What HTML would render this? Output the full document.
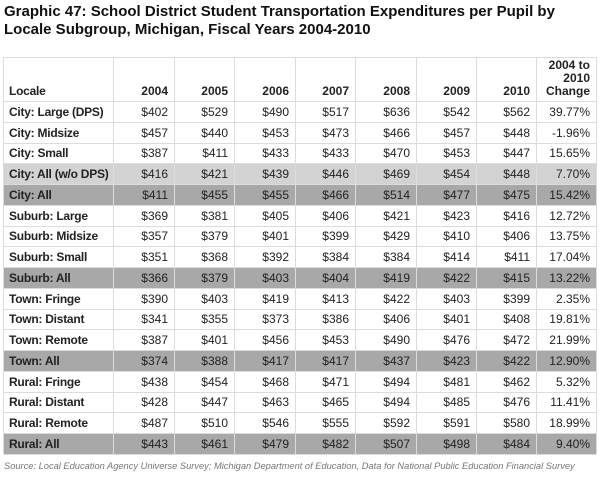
<!DOCTYPE html>
<html><head><meta charset="utf-8"><style>
body{margin:0;width:600px;height:477px;background:#fff;font-family:"Liberation Sans",Arial,sans-serif;position:relative;overflow:hidden}
.t{position:absolute;left:4px;top:3px;font-weight:bold;font-size:15px;line-height:18px;color:#111}
table{position:absolute;left:3px;top:57px;width:593px;border-collapse:collapse;table-layout:fixed;font-size:12px;color:#222}
td{border:1px solid #dcdcdc;padding:0 6px 0 2px;text-align:right;height:20.76px;white-space:nowrap;box-sizing:border-box;vertical-align:middle;line-height:14px}
td:first-child{text-align:left;font-weight:bold;padding-left:5px;padding-right:0;letter-spacing:-0.25px}
tr.h td{height:44px;vertical-align:bottom;font-weight:bold;padding-bottom:3px;line-height:13px}
tr.l td{background:#d3d3d3}
tr.d td{background:#a8a8a8}
.s{position:absolute;left:4px;top:461px;font-size:9.3px;font-style:italic;color:#777;white-space:nowrap}
</style></head><body>
<div class="t">Graphic 47: School District Student Transportation Expenditures per Pupil by<br>Locale Subgroup, Michigan, Fiscal Years 2004-2010</div>
<table>
<colgroup><col style="width:110px"><col style="width:61px"><col style="width:60px"><col style="width:61px"><col style="width:60px"><col style="width:61px"><col style="width:60px"><col style="width:60px"><col style="width:60px"></colgroup>
<tr class="h"><td>Locale</td><td>2004</td><td>2005</td><td>2006</td><td>2007</td><td>2008</td><td>2009</td><td>2010</td><td>2004 to<br>2010<br>Change</td></tr>
<tr><td>City: Large (DPS)</td><td>$402</td><td>$529</td><td>$490</td><td>$517</td><td>$636</td><td>$542</td><td>$562</td><td>39.77%</td></tr>
<tr><td>City: Midsize</td><td>$457</td><td>$440</td><td>$453</td><td>$473</td><td>$466</td><td>$457</td><td>$448</td><td>-1.96%</td></tr>
<tr><td>City: Small</td><td>$387</td><td>$411</td><td>$433</td><td>$433</td><td>$470</td><td>$453</td><td>$447</td><td>15.65%</td></tr>
<tr class="l"><td>City: All (w/o DPS)</td><td>$416</td><td>$421</td><td>$439</td><td>$446</td><td>$469</td><td>$454</td><td>$448</td><td>7.70%</td></tr>
<tr class="d"><td>City: All</td><td>$411</td><td>$455</td><td>$455</td><td>$466</td><td>$514</td><td>$477</td><td>$475</td><td>15.42%</td></tr>
<tr><td>Suburb: Large</td><td>$369</td><td>$381</td><td>$405</td><td>$406</td><td>$421</td><td>$423</td><td>$416</td><td>12.72%</td></tr>
<tr><td>Suburb: Midsize</td><td>$357</td><td>$379</td><td>$401</td><td>$399</td><td>$429</td><td>$410</td><td>$406</td><td>13.75%</td></tr>
<tr><td>Suburb: Small</td><td>$351</td><td>$368</td><td>$392</td><td>$384</td><td>$384</td><td>$414</td><td>$411</td><td>17.04%</td></tr>
<tr class="d"><td>Suburb: All</td><td>$366</td><td>$379</td><td>$403</td><td>$404</td><td>$419</td><td>$422</td><td>$415</td><td>13.22%</td></tr>
<tr><td>Town: Fringe</td><td>$390</td><td>$403</td><td>$419</td><td>$413</td><td>$422</td><td>$403</td><td>$399</td><td>2.35%</td></tr>
<tr><td>Town: Distant</td><td>$341</td><td>$355</td><td>$373</td><td>$386</td><td>$406</td><td>$401</td><td>$408</td><td>19.81%</td></tr>
<tr><td>Town: Remote</td><td>$387</td><td>$401</td><td>$456</td><td>$453</td><td>$490</td><td>$476</td><td>$472</td><td>21.99%</td></tr>
<tr class="d"><td>Town: All</td><td>$374</td><td>$388</td><td>$417</td><td>$417</td><td>$437</td><td>$423</td><td>$422</td><td>12.90%</td></tr>
<tr><td>Rural: Fringe</td><td>$438</td><td>$454</td><td>$468</td><td>$471</td><td>$494</td><td>$481</td><td>$462</td><td>5.32%</td></tr>
<tr><td>Rural: Distant</td><td>$428</td><td>$447</td><td>$463</td><td>$465</td><td>$494</td><td>$485</td><td>$476</td><td>11.41%</td></tr>
<tr><td>Rural: Remote</td><td>$487</td><td>$510</td><td>$546</td><td>$555</td><td>$592</td><td>$591</td><td>$580</td><td>18.99%</td></tr>
<tr class="d"><td>Rural: All</td><td>$443</td><td>$461</td><td>$479</td><td>$482</td><td>$507</td><td>$498</td><td>$484</td><td>9.40%</td></tr>
</table>
<div class="s">Source: Local Education Agency Universe Survey; Michigan Department of Education, Data for National Public Education Financial Survey</div>
</body></html>
